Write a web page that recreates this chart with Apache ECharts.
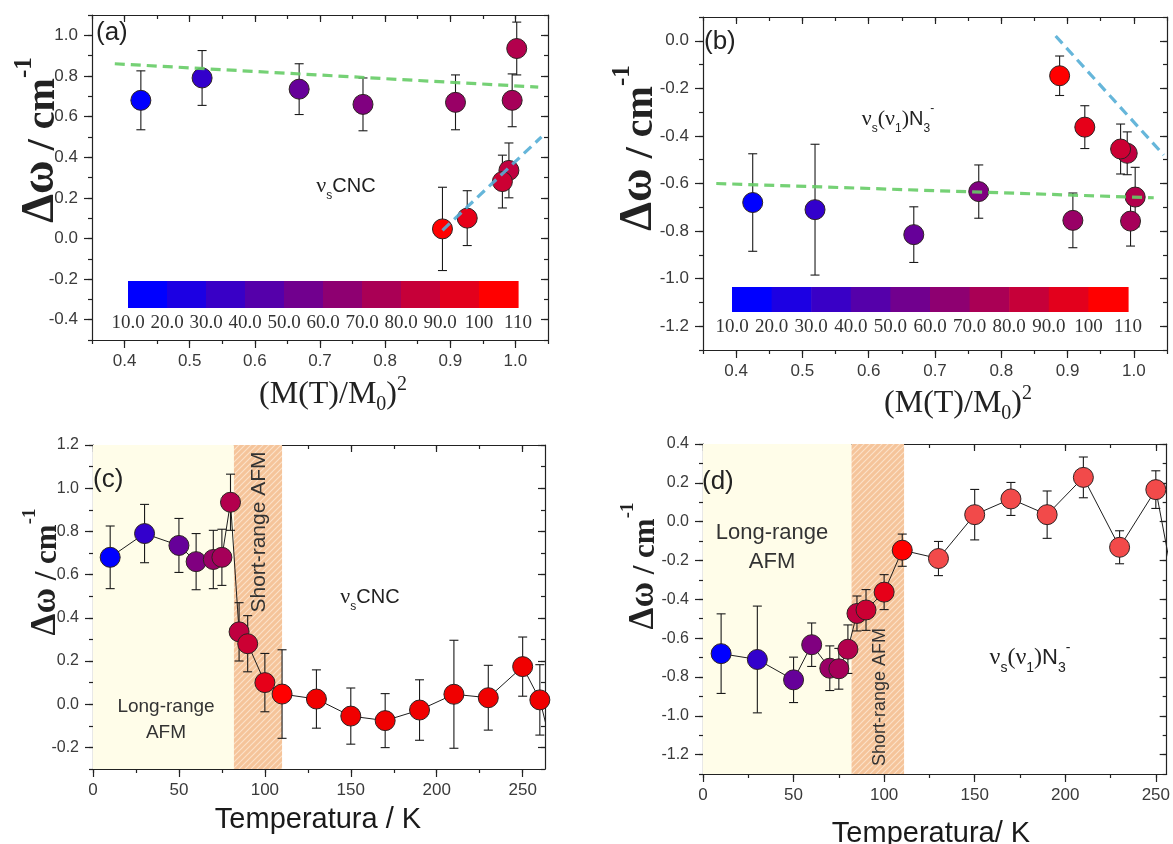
<!DOCTYPE html>
<html>
<head>
<meta charset="utf-8">
<script src="https://cdn.jsdelivr.net/npm/echarts@6/dist/echarts.min.js"></script>
<style>
  html, body { margin: 0; padding: 0; background: #fff; }
  #chart { width: 1173px; height: 844px; }
</style>
</head>
<body>
<div id="chart"></div>
<script>
// ---- measured data -------------------------------------------------------
// temperatures (K)
const tempsCNC = [10, 30, 50, 60, 70, 75, 80, 85, 90, 100, 110, 130, 150, 170, 190, 210, 230, 250, 260, 270];
const tempsN3  = [10, 30, 50, 60, 70, 75, 80, 85, 90, 100, 110, 130, 150, 170, 190, 210, 230, 250, 260];

// nu_s CNC band shift (cm^-1) and its uncertainty
const cncShift = [0.68, 0.79, 0.735, 0.66, 0.67, 0.68, 0.935, 0.335, 0.28, 0.10, 0.047, 0.024, -0.055, -0.076, -0.027, 0.046, 0.03, 0.174, 0.02, -0.30];
const cncErr   = [0.145, 0.135, 0.125, 0.13, 0.135, 0.13, 0.13, 0.135, 0.13, 0.135, 0.205, 0.135, 0.13, 0.125, 0.14, 0.25, 0.15, 0.137, 0.163, 0.15];

// nu_s(nu_1) N3- band shift (cm^-1) and its uncertainty
const n3Shift = [-0.68, -0.71, -0.815, -0.634, -0.755, -0.758, -0.657, -0.473, -0.455, -0.363, -0.147, -0.19, 0.036, 0.117, 0.036, 0.228, -0.132, 0.165, -0.33];
const n3Err   = [0.205, 0.275, 0.117, 0.112, 0.115, 0.105, 0.125, 0.09, 0.105, 0.09, 0.083, 0.088, 0.13, 0.085, 0.122, 0.105, 0.085, 0.097, 0.1];

// (M(T)/M0)^2 for the ordered-phase temperatures 10 ... 110 K
const m2 = [0.425, 0.519, 0.668, 0.766, 0.908, 0.995, 1.002, 0.99, 0.98, 0.926, 0.888];

// linear guides
const fitCncFlat  = [[0.385, 0.86], [1.035, 0.745]];
const fitCncSteep = [[0.888, 0.04], [1.04, 0.50]];
const fitN3Flat   = [[0.37, -0.60], [1.03, -0.66]];
const fitN3Steep  = [[0.882, 0.02], [1.045, -0.48]];

// magnetic regimes (K)
const longRange  = [0, 82];
const shortRangeC = [82, 110];
const shortRangeD = [82, 111];

// tick labels
const m2Ticks     = [0.4, 0.5, 0.6, 0.7, 0.8, 0.9, 1.0];
const tempTicks   = [0, 50, 100, 150, 200, 250];
const cncM2Ticks  = [-0.4, -0.2, 0.0, 0.2, 0.4, 0.6, 0.8, 1.0];
const n3M2Ticks   = [-1.2, -1.0, -0.8, -0.6, -0.4, -0.2, 0.0];
const cncTTicks   = [-0.2, 0.0, 0.2, 0.4, 0.6, 0.8, 1.0, 1.2];
const n3TTicks    = [-1.2, -1.0, -0.8, -0.6, -0.4, -0.2, 0.0, 0.2, 0.4];
const colorbarTicks = [10, 20, 30, 40, 50, 60, 70, 80, 90, 100, 110];

// ---- helpers ---------------------------------------------------------------
const SANS = '"Liberation Sans", Arial, sans-serif';
const SERIF = '"Liberation Serif", "Times New Roman", serif';
const INK = '#222';
const LABEL = '#3a3a3a';

function tempColor(t, hot) {
  if (t > 110) return hot;
  const f = Math.max(0, Math.min(1, (t - 10) / 100));
  return 'rgb(' + Math.round(255 * f) + ',0,' + Math.round(255 * (1 - f)) + ')';
}
function blockColor(i, n) {
  const f = i / (n - 1);
  return 'rgb(' + Math.round(255 * f) + ',0,' + Math.round(255 * (1 - f)) + ')';
}
function halfTicks(min, max, step) {
  const out = [];
  const n = Math.round((max - min) / step);
  for (let k = 0; k <= n; k++) out.push(+(min + k * step).toFixed(4));
  return out.filter(v => v <= max + 1e-9);
}
const fmt1 = v => Number(v).toFixed(1);
const fmt0 = v => String(Math.round(v));

const hatch = (function () {
  const c = document.createElement('canvas');
  c.width = 6; c.height = 6;
  const g = c.getContext('2d');
  g.fillStyle = '#F5C49A';
  g.fillRect(0, 0, 6, 6);
  g.strokeStyle = '#FBE2C9';
  g.lineWidth = 1.1;
  g.beginPath();
  g.moveTo(-1, 7); g.lineTo(7, -1);
  g.moveTo(-1, 1); g.lineTo(1, -1);
  g.moveTo(5, 7); g.lineTo(7, 5);
  g.stroke();
  return c;
})();

const grids = [], xAxes = [], yAxes = [], series = [], graphics = [];

// four axes per side pair: main (scale + minor ticks + labels), major ticks,
// mirrored frame side with inward minor ticks, mirrored inward major ticks
function axisSet(dim, gi, cfg) {
  const list = dim === 'x' ? xAxes : yAxes;
  const pos = dim === 'x' ? ['bottom', 'top'] : ['left', 'right'];
  const minor = halfTicks(cfg.min, cfg.max, cfg.step);
  const line = { show: true, onZero: false, lineStyle: { color: INK, width: 1.2 } };
  const noLine = { show: false, onZero: false };
  const tick = { color: INK, width: 1.2 };
  const common = { gridIndex: gi, type: 'value', min: cfg.min, max: cfg.max, splitLine: { show: false } };
  const base = list.length;
  list.push(Object.assign({}, common, {
    position: pos[0], axisLine: line,
    axisTick: { show: true, inside: false, length: 4, customValues: minor, lineStyle: tick },
    axisLabel: { show: true, customValues: cfg.major, formatter: cfg.fmt, fontFamily: SANS,
                 fontSize: cfg.fontSize || 17, color: LABEL, margin: cfg.margin || 12 }
  }));
  list.push(Object.assign({}, common, {
    position: pos[0], axisLine: noLine,
    axisTick: { show: true, inside: false, length: 8, customValues: cfg.major, lineStyle: tick },
    axisLabel: { show: false }
  }));
  list.push(Object.assign({}, common, {
    position: pos[1], axisLine: line,
    axisTick: { show: true, inside: true, length: 4, customValues: minor, lineStyle: tick },
    axisLabel: { show: false }
  }));
  list.push(Object.assign({}, common, {
    position: pos[1], axisLine: noLine,
    axisTick: { show: true, inside: true, length: 7, customValues: cfg.major, lineStyle: tick },
    axisLabel: { show: false }
  }));
  return base;
}

function errorBars(xi, yi, data, z) {
  return {
    type: 'custom', xAxisIndex: xi, yAxisIndex: yi, z: z, clip: true, silent: true,
    data: data,
    renderItem: function (params, api) {
      const x = api.value(0), y = api.value(1), e = api.value(2);
      const top = api.coord([x, y + e]);
      const bot = api.coord([x, y - e]);
      const h = 4.5;
      const st = { stroke: '#1a1a1a', lineWidth: 1.1 };
      return {
        type: 'group', children: [
          { type: 'line', shape: { x1: top[0], y1: top[1], x2: bot[0], y2: bot[1] }, style: st },
          { type: 'line', shape: { x1: top[0] - h, y1: top[1], x2: top[0] + h, y2: top[1] }, style: st },
          { type: 'line', shape: { x1: bot[0] - h, y1: bot[1], x2: bot[0] + h, y2: bot[1] }, style: st }
        ]
      };
    }
  };
}

function points(xi, yi, data, hot) {
  return {
    type: 'scatter', xAxisIndex: xi, yAxisIndex: yi, z: 4, clip: true, silent: true,
    symbol: 'circle', symbolSize: 20,
    data: data,
    itemStyle: {
      color: p => tempColor(p.value[2], hot),
      borderColor: '#2e2222', borderWidth: 1, opacity: 1
    }
  };
}

function guide(xi, yi, data, color) {
  return {
    type: 'line', xAxisIndex: xi, yAxisIndex: yi, z: 5, silent: true, symbol: 'none',
    data: data,
    lineStyle: { color: color, width: 3.2, type: [10, 6], opacity: 0.9 }
  };
}

function colorbar(box) {
  const gi = grids.length;
  grids.push(box);
  const xi = xAxes.length, yi = yAxes.length;
  xAxes.push({
    gridIndex: gi, type: 'value', min: colorbarTicks[0], max: colorbarTicks[colorbarTicks.length - 1],
    position: 'bottom', axisLine: { show: false, onZero: false }, axisTick: { show: false },
    splitLine: { show: false },
    axisLabel: { show: true, customValues: colorbarTicks, fontFamily: SERIF, fontSize: 19, color: '#333', margin: 6,
                 formatter: v => (v < 100 ? Number(v).toFixed(1) : String(v)) }
  });
  yAxes.push({ gridIndex: gi, type: 'value', min: 0, max: 1, show: false });
  const blocks = [];
  for (let i = 0; i < colorbarTicks.length - 1; i++) blocks.push([colorbarTicks[i], colorbarTicks[i + 1], i]);
  series.push({
    type: 'custom', xAxisIndex: xi, yAxisIndex: yi, z: 3, silent: true,
    data: blocks,
    renderItem: function (params, api) {
      const a = api.coord([api.value(0), 1]);
      const b = api.coord([api.value(1), 0]);
      return {
        type: 'rect',
        shape: { x: a[0], y: a[1], width: b[0] - a[0] + 0.6, height: b[1] - a[1] },
        style: { fill: blockColor(api.value(2), blocks.length) }
      };
    }
  });
}

function text(x, y, str, rich, extra) {
  graphics.push(Object.assign({
    type: 'text', x: x, y: y, silent: true, z: 100,
    style: { text: str, rich: rich, align: 'center', verticalAlign: 'middle', fill: INK }
  }, extra || {}));
}

// ---- panel (a): CNC vs (M/M0)^2 ----------------------------------------------
(function () {
  const gi = grids.length;
  grids.push({ left: 92, top: 15, width: 456, height: 325 });
  const xi = axisSet('x', gi, { min: 0.35, max: 1.05, step: 0.05, major: m2Ticks, fmt: fmt1, margin: 13 });
  const yi = axisSet('y', gi, { min: -0.5, max: 1.1, step: 0.1, major: cncM2Ticks, fmt: fmt1, margin: 14 });
  const pts = m2.map((x, i) => [x, cncShift[i], tempsCNC[i]]);
  const err = m2.map((x, i) => [x, cncShift[i], cncErr[i]]);
  series.push(errorBars(xi, yi, err, 3));
  series.push(points(xi, yi, pts, '#f00000'));
  series.push(guide(xi, yi, fitCncFlat, '#66cc66'));
  series.push(guide(xi, yi, fitCncSteep, '#55aed6'));
  colorbar({ left: 128, top: 281, width: 390, height: 27 });
})();

// ---- panel (b): N3- vs (M/M0)^2 ----------------------------------------------
(function () {
  const gi = grids.length;
  grids.push({ left: 703, top: 17, width: 464, height: 333 });
  const xi = axisSet('x', gi, { min: 0.35, max: 1.05, step: 0.05, major: m2Ticks, fmt: fmt1, margin: 13 });
  const yi = axisSet('y', gi, { min: -1.3, max: 0.1, step: 0.1, major: n3M2Ticks, fmt: fmt1, margin: 14 });
  const pts = m2.map((x, i) => [x, n3Shift[i], tempsN3[i]]);
  const err = m2.map((x, i) => [x, n3Shift[i], n3Err[i]]);
  series.push(errorBars(xi, yi, err, 3));
  series.push(points(xi, yi, pts, '#f00000'));
  series.push(guide(xi, yi, fitN3Flat, '#66cc66'));
  series.push(guide(xi, yi, fitN3Steep, '#55aed6'));
  colorbar({ left: 732, top: 287, width: 396, height: 25 });
})();

// ---- panels (c) and (d): shift vs temperature ----------------------------------
function tempPanel(box, xMax, yr, temps, vals, errs, hot, shortRange) {
  const gi = grids.length;
  grids.push(box);
  const xi = axisSet('x', gi, { min: 0, max: xMax, step: 25, major: tempTicks, fmt: fmt0, margin: 13 });
  const yi = axisSet('y', gi, { min: yr[0], max: yr[1], step: 0.1, major: yr[2], fmt: fmt1, margin: 14, fontSize: 16 });
  series.push({
    type: 'line', xAxisIndex: xi, yAxisIndex: yi, z: 2, silent: true, symbol: 'none', clip: true,
    data: temps.map((t, i) => [t, vals[i]]),
    lineStyle: { color: '#1e1e1e', width: 1 },
    markArea: {
      silent: true,
      data: [
        [{ xAxis: longRange[0], itemStyle: { color: '#FFFDE9' } }, { xAxis: longRange[1] }],
        [{ xAxis: shortRange[0], itemStyle: { color: { image: hatch, repeat: 'repeat' } } }, { xAxis: shortRange[1] }]
      ]
    }
  });
  series.push(errorBars(xi, yi, temps.map((t, i) => [t, vals[i], errs[i]]), 3));
  series.push(points(xi, yi, temps.map((t, i) => [t, vals[i], t]), hot));
}
tempPanel({ left: 93, top: 445, width: 452, height: 324 }, 263, [-0.3, 1.2, cncTTicks],
          tempsCNC, cncShift, cncErr, '#f00000', shortRangeC);
tempPanel({ left: 703, top: 444, width: 465, height: 330 }, 256, [-1.3, 0.4, n3TTicks],
          tempsN3, n3Shift, n3Err, '#f24a4a', shortRangeD);

// ---- text ---------------------------------------------------------------------
const yTitleRich = function (big, gBig) {
  return {
    g: { fontFamily: SERIF, fontSize: gBig, fontWeight: 'bold', fill: INK, lineHeight: big + 12, verticalAlign: 'bottom' },
    t: { fontFamily: SERIF, fontSize: big, fontWeight: 'bold', fill: INK, lineHeight: big + 12, verticalAlign: 'bottom' },
    s: { fontFamily: SERIF, fontSize: Math.round(big * 0.62), fontWeight: 'bold', fill: INK, verticalAlign: 'top' }
  };
};
const yTitle = '{g|\u0394\u03c9}{t| / cm}{s|-1}';
text(38, 140, yTitle, yTitleRich(40, 46), { rotation: Math.PI / 2 });
text(636, 148, yTitle, yTitleRich(40, 46), { rotation: Math.PI / 2 });
text(42, 572, yTitle, yTitleRich(31, 35), { rotation: Math.PI / 2 });
text(640, 566, yTitle, yTitleRich(31, 35), { rotation: Math.PI / 2 });

const m2Rich = {
  m: { fontFamily: SERIF, fontSize: 32, fill: INK, lineHeight: 40, verticalAlign: 'middle' },
  b: { fontFamily: SERIF, fontSize: 20, fill: INK, verticalAlign: 'bottom', lineHeight: 36 },
  p: { fontFamily: SERIF, fontSize: 20, fill: INK, verticalAlign: 'top', lineHeight: 36 }
};
const m2Title = '{m|(M(T)/M}{b|0}{m|)}{p|2}';
text(333, 395, m2Title, m2Rich);
text(958, 404, m2Title, m2Rich);

const tRich = { a: { fontFamily: SANS, fontSize: 29, fill: '#1a1a1a' } };
text(318, 820, '{a|Temperatura / K}', tRich);
text(931, 834, '{a|Temperatura/ K}', tRich);

function panelTag(x, y, s) {
  graphics.push({ type: 'text', x: x, y: y, silent: true, z: 100,
    style: { text: s, fontFamily: SANS, fontSize: 26, fill: INK, align: 'left', verticalAlign: 'middle' } });
}
panelTag(96, 33, '(a)');
panelTag(704, 42, '(b)');
panelTag(93, 480, '(c)');
panelTag(702, 482, '(d)');

const nuRich = function (fs) {
  return {
    n: { fontFamily: SERIF, fontSize: fs + 2, fill: INK, lineHeight: fs + 12, verticalAlign: 'middle' },
    c: { fontFamily: SANS, fontSize: fs, fill: INK, lineHeight: fs + 12, verticalAlign: 'middle' },
    b: { fontFamily: SANS, fontSize: Math.round(fs * 0.62), fill: INK, lineHeight: fs + 12, verticalAlign: 'bottom' },
    p: { fontFamily: SANS, fontSize: Math.round(fs * 0.62), fill: INK, lineHeight: fs + 12, verticalAlign: 'top' }
  };
};
const cncLabel = '{n|\u03bd}{b|s}{c|CNC}';
const n3Label = '{n|\u03bd}{b|s}{n|(\u03bd}{b|1}{n|)}{c|N}{b|3}{p|-}';
text(346, 186, cncLabel, nuRich(20));
text(898, 119, n3Label, nuRich(20));
text(370, 597, cncLabel, nuRich(20));
text(1030, 658, n3Label, nuRich(22));

const regRich = function (fs) { return { r: { fontFamily: SANS, fontSize: fs, fill: '#333', lineHeight: fs + 7 } }; };
text(166, 720, '{r|Long-range}\n{r|AFM}', regRich(19));
text(772, 547, '{r|Long-range}\n{r|AFM}', regRich(22));
text(259, 532, '{r|Short-range AFM}', regRich(21), { rotation: Math.PI / 2 });
text(880, 697, '{r|Short-range AFM}', regRich(18), { rotation: Math.PI / 2 });

// ---- chart --------------------------------------------------------------------
const chart = echarts.init(document.getElementById('chart'), null, { renderer: 'canvas' });
chart.setOption({
  backgroundColor: '#ffffff',
  animation: false,
  grid: grids,
  xAxis: xAxes,
  yAxis: yAxes,
  series: series,
  graphic: graphics
});
</script>
</body>
</html>
